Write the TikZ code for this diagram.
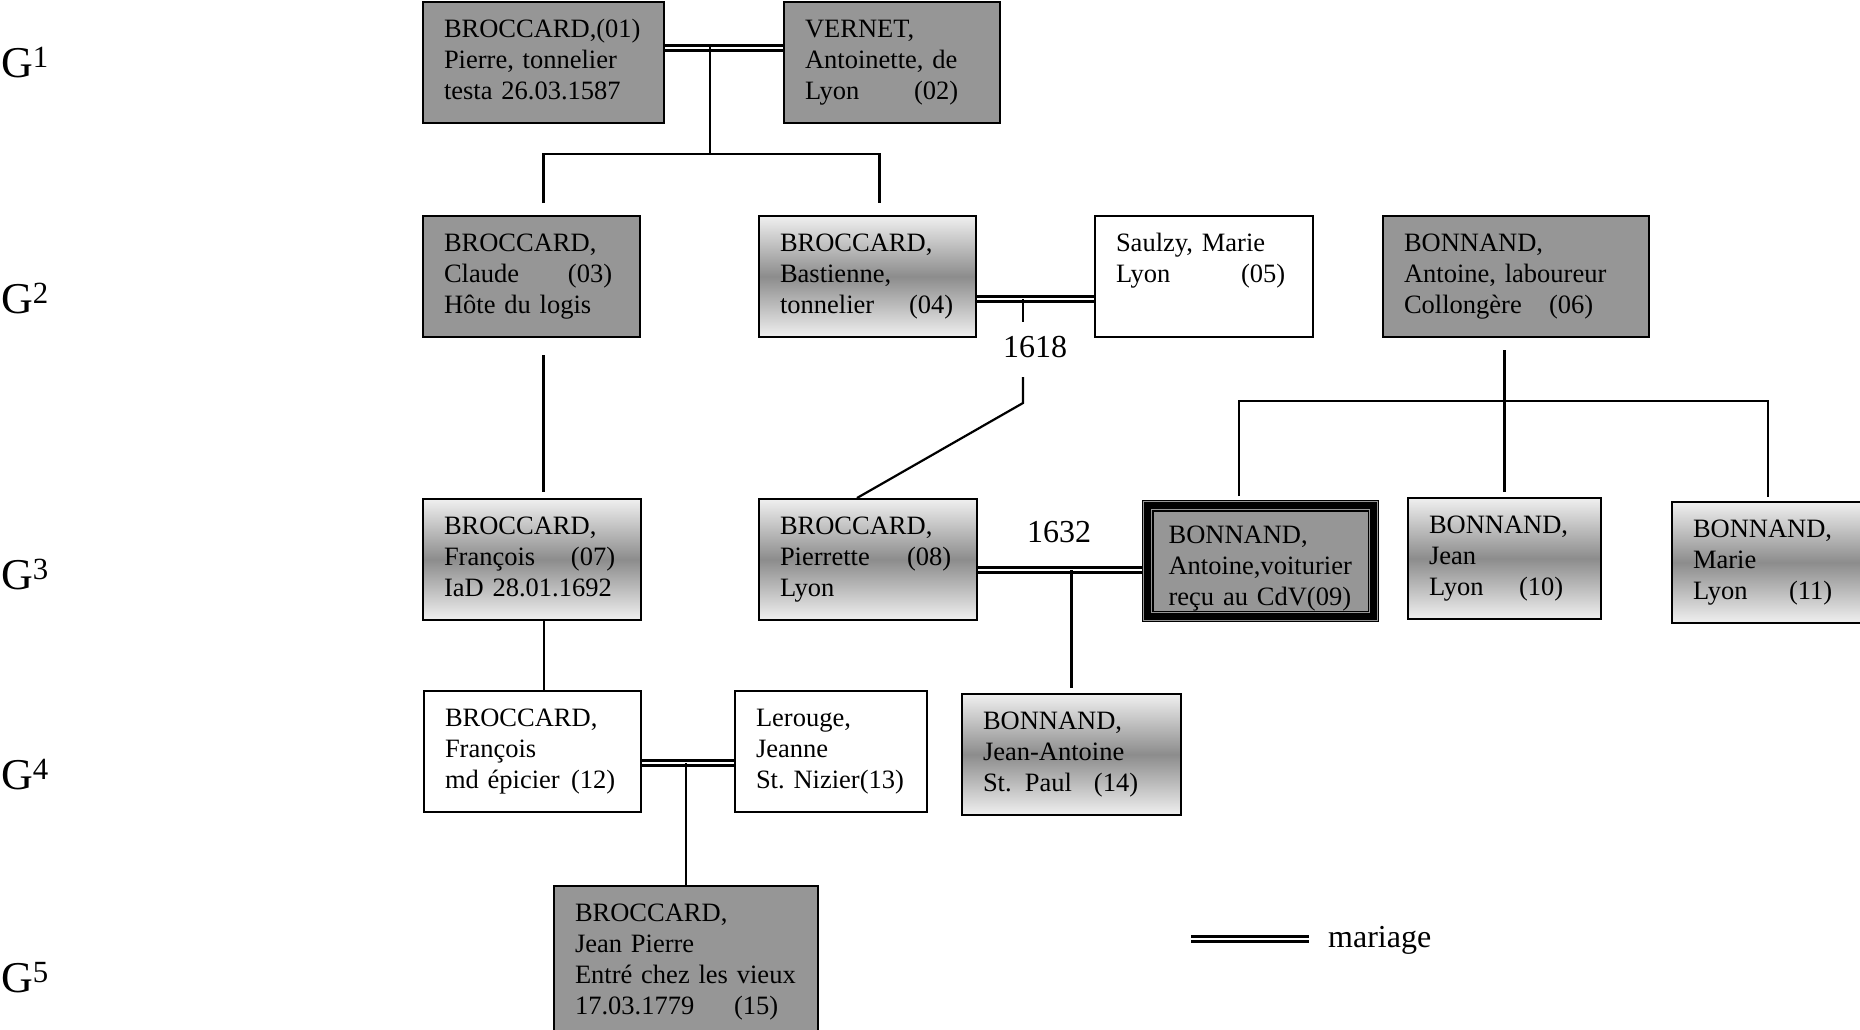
\documentclass[tikz,border=0pt]{standalone}
\usepackage{fontspec}
\setmainfont{Liberation Serif}
\usetikzlibrary{positioning}
\newcommand\tabto[2]{\makebox[#1pt][l]{#2}}

\begin{document}
\begin{tikzpicture}[x=1pt,y=-1pt,
  person/.style={draw,line width=2,anchor=north west,align=left,text width=#1pt,inner xsep=21,inner ysep=15,text height=20pt,text depth=71pt,font=\fontsize{26.5}{31}\selectfont},
  dark/.style={fill=black!41},
  grad/.style={top color=black!6,bottom color=black!6,middle color=black!45},
  link/.style={line width=2.2},
  mariage/.style={double,double distance=2.6pt,line width=2.4},
  year/.style={inner sep=14,font=\fontsize{32}{38}\selectfont},
  gen/.style={inner sep=0,anchor=base west,font=\fontsize{44}{52}\selectfont}]
\useasboundingbox (0,0) rectangle (1860,1029);
\clip (0,0) rectangle (1860,1029);
\foreach \n/\y in {1/77,2/313,3/589,4/789,5/992}
  \node[gen] (g\n) at (1,\y) {G\textsuperscript{\n}};
\node[person=199,dark] (p01) at (422,1) {BROCCARD,(01)\\Pierre, tonnelier\\testa 26.03.1587};
\node[person=174,dark] (p02) at (783,1) {VERNET,\\Antoinette, de\\\tabto{109}{Lyon}(02)};
\node[person=175,dark] (p03) at (422,215) {BROCCARD,\\\tabto{124}{Claude}(03)\\Hôte du logis};
\node[person=175,grad] (p04) at (758,215) {BROCCARD,\\Bastienne,\\\tabto{129}{tonnelier}(04)};
\node[person=176] (p05) at (1094,215) {Saulzy, Marie\\\tabto{125}{Lyon}(05)};
\node[person=224,dark] (p06) at (1382,215) {BONNAND,\\Antoine, laboureur\\\tabto{145}{Collongère}(06)};
\node[person=176,grad] (p07) at (422,498) {BROCCARD,\\\tabto{127}{François}(07)\\IaD 28.01.1692};
\node[person=176,grad] (p08) at (758,498) {BROCCARD,\\\tabto{127}{Pierrette}(08)\\Lyon};
\node[person=184,dark,line width=1.2,inner xsep=26,text height=28pt,text depth=63pt] (p09) at (1142,500) {BONNAND,\\Antoine,voiturier\\reçu au CdV(09)};
\node[person=151,grad] (p10) at (1407,497) {BONNAND,\\Jean\\\tabto{90}{Lyon}(10)};
\node[person=150,grad] (p11) at (1671,501) {BONNAND,\\Marie\\\tabto{96}{Lyon}(11)};
\node[person=175] (p12) at (423,690) {BROCCARD,\\François\\\tabto{126}{md épicier}(12)};
\node[person=150] (p13) at (734,690) {Lerouge,\\Jeanne\\St.~Nizier(13)};
\node[person=177,grad] (p14) at (961,693) {BONNAND,\\Jean-Antoine\\\tabto{111}{St. Paul}(14)};
\node[person=222,dark,text depth=102pt] (p15) at (553,885) {BROCCARD,\\Jean Pierre\\Entré chez les vieux\\\tabto{159}{17.03.1779}(15)};
\draw[line width=7] ([shift={(5.5,5.5)}]p09.north west) rectangle ([shift={(-5.5,-5.5)}]p09.south east);
\draw[line width=1.2] ([shift={(11,11)}]p09.north west) rectangle ([shift={(-11,-11)}]p09.south east);
\node[year] (d1618) at (1035,347) {1618};
\node[year] (d1632) at (1059,532) {1632};
\coordinate (w1) at (710,45);
\coordinate (f1) at (710,154);
\coordinate (w2) at (1023,299);
\coordinate (k2) at (1023,403);
\coordinate (f3) at (1503.5,401);
\draw[mariage] (p01.east |- 0,48) -- (p02.west |- 0,48);
\draw[mariage] (p04.east |- 0,299) -- (p05.west |- 0,299);
\draw[mariage] (p08.east |- 0,570) -- (p09.west |- 0,570);
\draw[mariage] (p12.east |- 0,763) -- (p13.west |- 0,763);
\draw[link] (w1) -- (f1);
\draw[link,shorten <=12,shorten >=12] ([xshift=12]p03.north) |- (f1) -| ([xshift=12]p04.north);
\draw[link,shorten <=17,shorten >=6] ([xshift=12]p03.south) -- ([xshift=12]p03.south |- p07.north);
\draw[link] ([xshift=12]p07.south) -- ([xshift=12]p07.south |- p12.north);
\draw[link] (w2) -- (w2 |- d1618.north);
\draw[link,shorten <=5] (w2 |- d1618.south) -- (k2) -- ([xshift=-11]p08.north);
\draw[link,shorten <=12,shorten >=5] (p10.north |- p06.south) -- (p10.north);
\draw[link,shorten <=4,shorten >=4] ([xshift=-22]p09.north) |- (f3) -| (p11.north);
\draw[link,shorten >=5] (p14.north |- 0,570) -- (p14.north);
\draw[link] (p15.north |- 0,763) -- (p15.north);
\node[year,inner sep=0,anchor=base west] (leg) at (1328,947) {mariage};
\coordinate (l0) at (1191,939);
\draw[mariage,shorten >=19] (l0) -- (l0 -| leg.west);
\end{tikzpicture}
\end{document}
